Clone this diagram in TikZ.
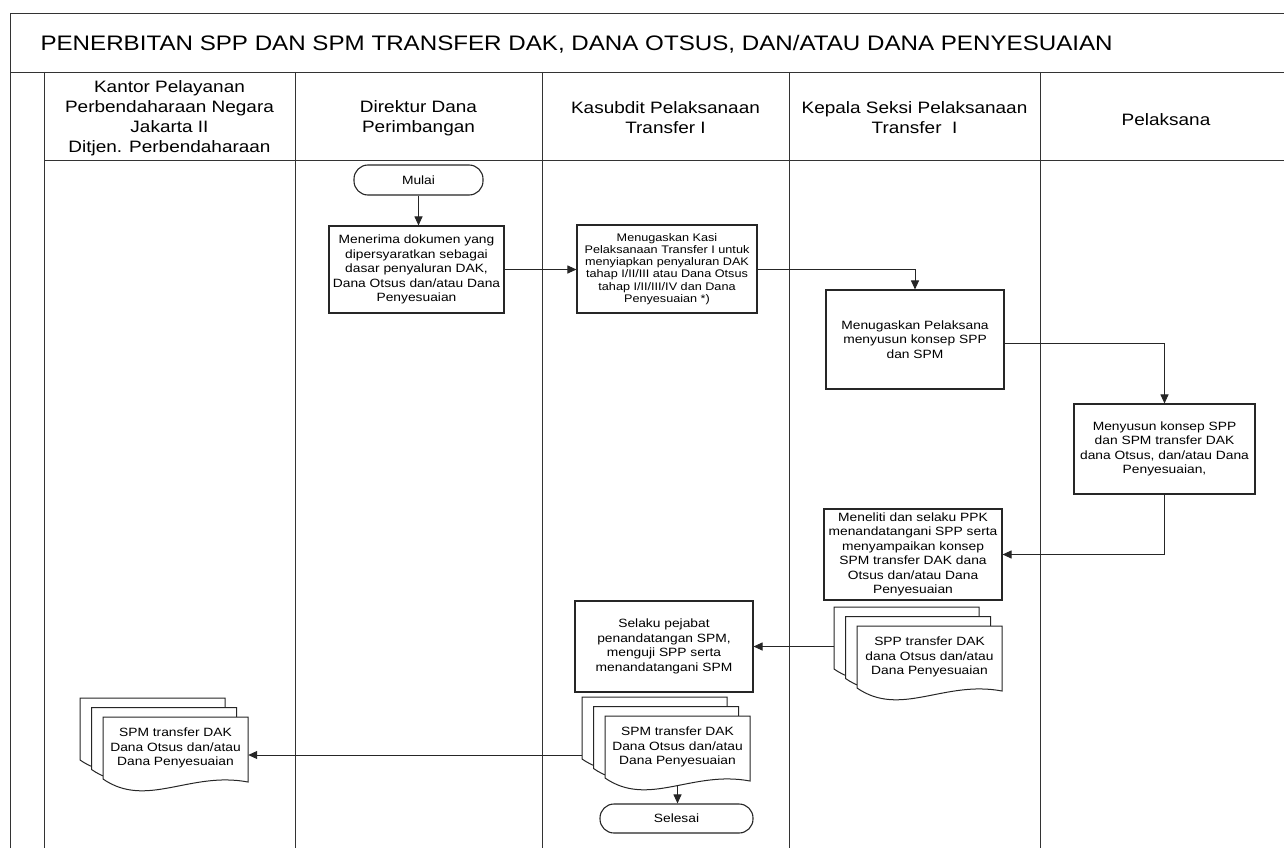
\documentclass[tikz,border=0pt]{standalone}
\usepackage{fontspec}
\setmainfont{Liberation Sans}[FakeStretch=1.15]
\usetikzlibrary{arrows.meta,calc}

\newcommand{\titlefont}{\fontsize{21}{24}\selectfont}
\newcommand{\headfont}{\fontsize{16.5}{20}\selectfont}
\newcommand{\boxfont}{\fontsize{12}{14.5}\selectfont}
\newcommand{\smallboxfont}{\fontsize{11}{12.2}\selectfont}

\tikzset{
  frame/.style={draw=black!80, line width=0.9pt},
  proc/.style={draw=black!85, line width=1.1pt, fill=white, align=center,
    inner sep=2pt, font=\boxfont},
  term/.style={proc, rounded corners=14pt},
  lanehead/.style={align=center, font=\headfont},
  pageline/.style={draw=black!85, line width=1pt, fill=white},
  pagenode/.style={rectangle, minimum width=145pt, minimum height=62pt,
    inner sep=0pt, align=center, font=\boxfont},
  arr/.style={draw=black!85, line width=1pt, -{Triangle[length=9pt,width=8pt]}},
}

% one sheet of a document symbol, top-left corner at (#1,#2)
\newcommand{\pageoutline}[2]{%
  \path[pageline] (#1,#2) -- (#1+145,#2) -- (#1+145,#2+65)
    .. controls (#1+87,#2+54) and (#1+43.5,#2+92) .. (#1,#2+62) -- cycle;}

% stack of three sheets; #1 name, (#2,#3) top-left of the front sheet, #4 text
\newcommand{\docstack}[4]{%
  \pageoutline{#2-23}{#3-19}
  \pageoutline{#2-11.5}{#3-9.5}
  \pageoutline{#2}{#3}
  \node[pagenode] (#11) at (#2-23+72.5,#3-19+31) {};
  \node[pagenode] (#12) at (#2-11.5+72.5,#3-9.5+31) {};
  \node[pagenode] (#13) at (#2+72.5,#3+31) {#4};}

\begin{document}
\begin{tikzpicture}[x=1pt,y=-1pt]
\useasboundingbox (0,0) rectangle (1284,848);

% outer frame, title row, header row and swimlanes
\draw[frame] (10,848) -- (10,13) -- (1284,13);
\draw[frame] (10,72) -- (1284,72);
\draw[frame] (44,72) -- (44,848);
\draw[frame] (44,160) -- (1284,160);
\foreach \lx in {295,542,789,1040} \draw[frame] (\lx,72) -- (\lx,848);

\node[anchor=west, font=\titlefont] (title) at (37,44)
  {PENERBITAN SPP DAN SPM TRANSFER DAK, DANA OTSUS, DAN/ATAU DANA PENYESUAIAN};

\node[lanehead] (h1) at (169.5,118) {Kantor Pelayanan\\Perbendaharaan Negara\\Jakarta II\\Ditjen. Perbendaharaan};
\node[lanehead] (h2) at (418.5,118) {Direktur Dana\\Perimbangan};
\node[lanehead] (h3) at (665.5,118) {Kasubdit Pelaksanaan\\Transfer I};
\node[lanehead] (h4) at (914.5,118) {Kepala Seksi Pelaksanaan\\Transfer~~I};
\node[lanehead] (h5) at (1166,120) {Pelaksana};

% process steps
\node[term, minimum width=129pt, minimum height=30pt] (mulai) at (418.5,180) {Mulai};
\node[proc, minimum width=175pt, minimum height=87pt] (terima) at (416.5,269.5)
  {Menerima dokumen yang\\dipersyaratkan sebagai\\dasar penyaluran DAK,\\Dana Otsus dan/atau Dana\\Penyesuaian};
\node[proc, font=\smallboxfont, minimum width=180pt, minimum height=88pt] (tugaskasi) at (667,269)
  {Menugaskan Kasi\\Pelaksanaan Transfer I untuk\\menyiapkan penyaluran DAK\\tahap I/II/III atau Dana Otsus\\tahap I/II/III/IV dan Dana\\Penyesuaian *)};
\node[proc, minimum width=178pt, minimum height=99pt] (tugaspel) at (915,339.5)
  {Menugaskan Pelaksana\\menyusun konsep SPP\\dan SPM};
\node[proc, minimum width=181pt, minimum height=90pt] (susun) at (1164.5,449)
  {Menyusun konsep SPP\\dan SPM transfer DAK\\dana Otsus, dan/atau Dana\\Penyesuaian,};
\node[proc, minimum width=178pt, minimum height=91pt] (teliti) at (913,554.5)
  {Meneliti dan selaku PPK\\menandatangani SPP serta\\menyampaikan konsep\\SPM transfer DAK dana\\Otsus dan/atau Dana\\Penyesuaian};
\node[proc, minimum width=178pt, minimum height=91pt] (uji) at (664,646.5)
  {Selaku pejabat\\penandatangan SPM,\\menguji SPP serta\\menandatangani SPM};
\node[term, minimum width=153pt, minimum height=29pt] (selesai) at (676.5,818.5) {Selesai};

% document stacks
\docstack{spp}{857}{626}{SPP transfer DAK\\dana Otsus dan/atau\\Dana Penyesuaian}
\docstack{spm}{605}{716}{SPM transfer DAK\\Dana Otsus dan/atau\\Dana Penyesuaian}
\docstack{kppn}{103}{717}{SPM transfer DAK\\Dana Otsus dan/atau\\Dana Penyesuaian}

% flow
\draw[arr] (mulai.south) -- (mulai.south |- terima.north);
\draw[arr] (terima.east) -- (tugaskasi.west |- terima.east);
\draw[arr] (tugaskasi.east) -| (tugaspel.north);
\draw[arr] ($(tugaspel.east)+(0,4)$) -| (susun.north);
\draw[arr] (susun.south) |- (teliti.east);
\draw[arr] (uji.east -| spp1.west) -- (uji.east);
\draw[arr] ($(kppn3.east -| spm1.west)+(0,7)$) -- ($(kppn3.east)+(0,7)$);
\draw[arr] ($(spm3.south)+(0,8)$) -- (selesai.north -| spm3.south);
\end{tikzpicture}
\end{document}
